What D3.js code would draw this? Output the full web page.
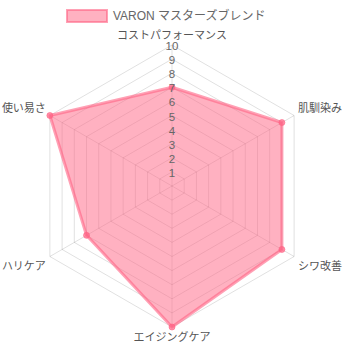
<!DOCTYPE html>
<html>
<head>
<meta charset="utf-8">
<script src="https://cdn.jsdelivr.net/npm/d3@7"></script>
<style>
body { margin: 0; background: #fff; }
text { font-family: "Helvetica Neue", Helvetica, Arial, "Noto Sans CJK JP", sans-serif; }
</style>
</head>
<body>
<div id="chart"></div>
<script>
// data
var labels = ['コストパフォーマンス', '肌馴染み', 'シワ改善', 'エイジングケア', 'ハリケア', '使い易さ']
var values = [7, 9, 9, 10, 7, 10]
var ticks = [1, 2, 3, 4, 5, 6, 7, 8, 9, 10]
var seriesName = 'VARON マスターズブレンド'

var W = 343, H = 343
var cx = 172, cy = 186, R = 141

var svg = d3.select('#chart').append('svg')
  .attr('width', W)
  .attr('height', H)

var r = d3.scaleLinear().domain([0, 10]).range([0, R])
var ang = d3.scaleLinear().domain([0, labels.length]).range([0, 2 * Math.PI])

function pt(i, v) {
  var a = ang(i)
  return [cx + r(v) * Math.sin(a), cy - r(v) * Math.cos(a)]
}

// grid hexagons
svg.selectAll('polygon.grid')
  .data(ticks)
  .enter().append('polygon')
    .attr('class', 'grid')
    .attr('points', t => labels.map((l, i) => pt(i, t).join(',')).join(' '))
    .attr('fill', 'none')
    .attr('stroke', 'rgba(0,0,0,0.12)')
    .attr('stroke-width', 1)

// angle lines
svg.selectAll('line.spoke')
  .data(labels)
  .enter().append('line')
    .attr('class', 'spoke')
    .attr('x1', cx).attr('y1', cy)
    .attr('x2', (d, i) => pt(i, 10)[0])
    .attr('y2', (d, i) => pt(i, 10)[1])
    .attr('stroke', 'rgba(0,0,0,0.12)')

// data area
var line = d3.lineRadial()
  .angle((d, i) => ang(i))
  .radius(d => r(d))
  .curve(d3.curveLinearClosed)

svg.append('path')
  .datum(values)
  .attr('transform', `translate(${cx},${cy})`)
  .attr('d', line)
  .attr('fill', 'rgba(255,99,132,0.5)')
  .attr('stroke', 'rgba(255,99,132,0.6)')
  .attr('stroke-width', 3)
  .attr('stroke-linejoin', 'round')

svg.selectAll('circle.pt')
  .data(values)
  .enter().append('circle')
    .attr('class', 'pt')
    .attr('cx', (d, i) => pt(i, d)[0])
    .attr('cy', (d, i) => pt(i, d)[1])
    .attr('r', 3)
    .attr('fill', 'rgba(255,99,132,0.7)')
    .attr('stroke', 'rgba(255,99,132,0.6)')

// tick labels
svg.selectAll('text.tick')
  .data(ticks)
  .enter().append('text')
    .attr('class', 'tick')
    .attr('x', cx)
    .attr('y', d => cy - r(d) + 1)
    .attr('dy', '0.35em')
    .attr('text-anchor', 'middle')
    .attr('font-size', 11.5)
    .attr('fill', '#666')
    .text(d => d)

// point labels
svg.selectAll('text.plabel')
  .data(labels)
  .enter().append('text')
    .attr('class', 'plabel')
    .attr('x', (d, i) => {
      var p = pt(i, 10)
      var s = Math.sin(ang(i))
      return p[0] + (s > 0.1 ? 4 : s < -0.1 ? -4 : 0)
    })
    .attr('y', (d, i) => {
      var p = pt(i, 10)
      var c = Math.cos(ang(i))
      if (i === 0) return p[1] - 10
      if (c < -0.9) return p[1] + 10
      return p[1] + (c > 0 ? -7 : 10)
    })
    .attr('dy', '0.35em')
    .attr('text-anchor', (d, i) => {
      var s = Math.sin(ang(i))
      return s > 0.1 ? 'start' : s < -0.1 ? 'end' : 'middle'
    })
    .attr('font-size', 11)
    .attr('fill', '#555')
    .text(d => d)

// legend
var lg = svg.append('g')
lg.append('rect')
  .attr('x', 67).attr('y', 10)
  .attr('width', 40).attr('height', 12)
  .attr('fill', 'rgba(255,99,132,0.5)')
  .attr('stroke', 'rgba(255,99,132,0.6)')
  .attr('stroke-width', 2)
lg.append('text')
  .attr('x', 113).attr('y', 16)
  .attr('dy', '0.35em')
  .attr('font-size', 12)
  .attr('fill', '#666')
  .text(seriesName)
</script>
</body>
</html>
